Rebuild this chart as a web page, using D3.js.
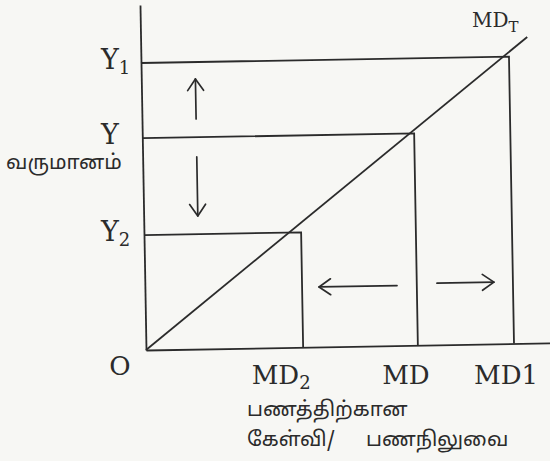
<!DOCTYPE html>
<html>
<head>
<meta charset="utf-8">
<script src="https://cdn.jsdelivr.net/npm/d3@7"></script>
<style>
  html, body { margin: 0; padding: 0; background: #f7f7f4; }
  svg { display: block; }
</style>
</head>
<body>
<div id="chart"></div>
<script>
// levels (0-100 units on both axes)
const incomeLevels = [33.3, 61.4, 83.2];   // Y2, Y, Y1
const demandLevels = [38.9, 67.3, 91.1];   // MD2, MD, MD1
const yTickLabels = [['Y', '2'], ['Y', ''], ['Y', '1']];
const xTickLabels = [['MD', '2'], ['MD', ''], ['MD1', '']];
const mdtLine = [[0, 0], [95.7, 88.8]];
const arrowFrom = [[13.4, 66.7], [13.4, 55.7], [62.4, 17.4], [72.3, 17.9]];
const arrowTo = [[13.4, 78.3], [13.4, 38.6], [43.1, 17.4], [86.4, 17.9]];

const width = 550;
const height = 461;
const ink = '#2b2b2b';
const serif = '"DejaVu Serif", "Liberation Serif", serif';
const tamil = '"Noto Sans Tamil", "Noto Sans", sans-serif';

const x = d3.scaleLinear().domain([0, 100]).range([146, 550]);
const y = d3.scaleLinear().domain([0, 100]).range([350, 5]);

const svg = d3.select('#chart')
  .append('svg')
  .attr('width', width)
  .attr('height', height);

// the scan is tilted about one degree round the origin
const plot = svg.append('g')
  .attr('transform', `rotate(-1, ${x(0)}, ${y(0)})`);

const axisY = d3.axisLeft(y).tickValues([]).tickSizeOuter(0);
const axisX = d3.axisBottom(x).tickValues([]).tickSizeOuter(0);
plot.append('g').attr('transform', `translate(${x(0)},0)`).call(axisY);
plot.append('g').attr('transform', `translate(0,${y(0)})`).call(axisX);
plot.selectAll('.domain')
  .attr('stroke', ink)
  .attr('stroke-width', 1.8);

const line = d3.line()
  .x((d) => x(d[0]))
  .y((d) => y(d[1]));

// income level -> money demand boxes
plot.selectAll('path.level')
  .data(incomeLevels)
  .join('path')
  .attr('class', 'level')
  .attr('fill', 'none')
  .attr('stroke', ink)
  .attr('stroke-width', 1.8)
  .attr('d', (d, i) => line([[0, d], [demandLevels[i], d], [demandLevels[i], 0]]));

plot.append('path')
  .attr('fill', 'none')
  .attr('stroke', ink)
  .attr('stroke-width', 1.8)
  .attr('d', line(mdtLine));

// open chevron arrows
const headLen = 14;
const headAngle = Math.PI / 5.2;
arrowFrom.forEach((from, i) => {
  const to = arrowTo[i];
  const x1 = x(from[0]), y1 = y(from[1]);
  const x2 = x(to[0]), y2 = y(to[1]);
  const a = Math.atan2(y2 - y1, x2 - x1);
  const g = plot.append('g')
    .attr('fill', 'none')
    .attr('stroke', ink)
    .attr('stroke-width', 1.7)
    .attr('stroke-linecap', 'round')
    .attr('stroke-linejoin', 'round');
  g.append('line')
    .attr('x1', x1).attr('y1', y1)
    .attr('x2', x2).attr('y2', y2);
  g.append('path')
    .attr('d', 'M' + (x2 - headLen * Math.cos(a - headAngle)) + ',' + (y2 - headLen * Math.sin(a - headAngle)) +
      'L' + x2 + ',' + y2 +
      'L' + (x2 - headLen * Math.cos(a + headAngle)) + ',' + (y2 - headLen * Math.sin(a + headAngle)));
});

// labels
const labels = svg.append('g').attr('fill', ink);

const subText = (sel, parts, size) => {
  sel.append('tspan').text(parts[0]);
  if (parts[1]) {
    sel.append('tspan')
      .attr('font-size', size)
      .attr('dy', 5)
      .text(parts[1]);
  }
};

labels.selectAll('text.ytick')
  .data(incomeLevels)
  .join('text')
  .attr('class', 'ytick')
  .attr('x', 101)
  .attr('y', (d) => y(d) + 6)
  .attr('font-family', serif)
  .attr('font-size', 27)
  .each(function (d, i) { subText(d3.select(this), yTickLabels[i], 18); });

// the printed labels sit a little left of their drop lines
const xNudge = [-22, -12, -8];
labels.selectAll('text.xtick')
  .data(demandLevels)
  .join('text')
  .attr('class', 'xtick')
  .attr('x', (d, i) => x(d) + xNudge[i])
  .attr('y', 384)
  .attr('text-anchor', 'middle')
  .attr('font-family', serif)
  .attr('font-size', 26)
  .each(function (d, i) { subText(d3.select(this), xTickLabels[i], 18); });

labels.append('text')
  .attr('x', 120)
  .attr('y', 375)
  .attr('text-anchor', 'middle')
  .attr('font-family', serif)
  .attr('font-size', 26)
  .text('O');

labels.append('text')
  .attr('x', 472)
  .attr('y', 27)
  .attr('font-family', serif)
  .attr('font-size', 20)
  .each(function () { subText(d3.select(this), ['MD', 'T'], 15); });

labels.append('text')
  .attr('x', 6)
  .attr('y', 169)
  .attr('font-family', tamil)
  .attr('font-size', 20.5)
  .text('வருமானம்');

labels.append('text')
  .attr('x', 247)
  .attr('y', 416)
  .attr('font-family', tamil)
  .attr('font-size', 20.5)
  .text('பணத்திற்கான');

const xTitle2 = labels.append('text')
  .attr('x', 247)
  .attr('y', 446)
  .attr('font-family', tamil)
  .attr('font-size', 20.5);
xTitle2.append('tspan').text('கேள்வி/');
xTitle2.append('tspan').attr('x', 366).text('பணநிலுவை');
</script>
</body>
</html>
